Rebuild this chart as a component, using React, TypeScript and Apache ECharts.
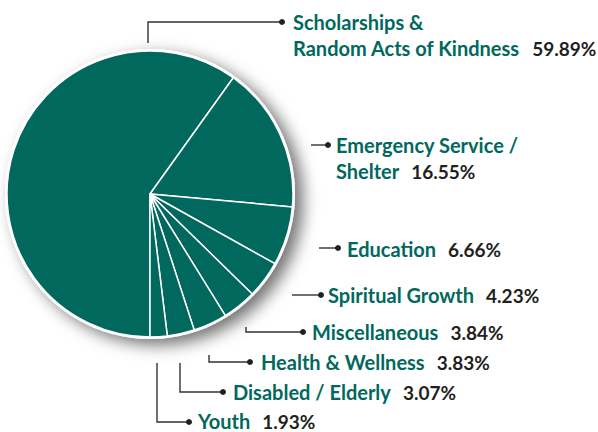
import React, { useEffect, useRef } from "react";
import * as echarts from "echarts";

const categories = [
  "Scholarships &\nRandom Acts of Kindness",
  "Emergency Service /\nShelter",
  "Education",
  "Spiritual Growth",
  "Miscellaneous",
  "Health & Wellness",
  "Disabled / Elderly",
  "Youth",
];
const values = [59.89, 16.55, 6.66, 4.23, 3.84, 3.83, 3.07, 1.93];

// label positions (text left / first-line centre) and leader-line points
const labelLayouts = [
  { x: 293, cy: 22, line: [[148, 43], [148, 22], [282, 22]] },
  { x: 336, cy: 145, line: [[311, 145], [311, 145], [328, 145]] },
  { x: 347, cy: 249, line: [[319, 248], [319, 248], [338, 248]] },
  { x: 328, cy: 295, line: [[292, 295], [292, 295], [321, 295]] },
  { x: 312, cy: 332, line: [[246, 327], [246, 332], [303, 332]] },
  { x: 261, cy: 362, line: [[209, 355], [209, 362], [250, 362]] },
  { x: 233, cy: 392, line: [[180, 363], [180, 392], [223, 392]] },
  { x: 198, cy: 421, line: [[157, 363], [157, 422], [189, 422]] },
];

const TEAL = "#00685d";
const DARK = "#231f20";
const FONT = "Lato, 'Open Sans', sans-serif";
const FS = 20;
const FS_VALUE = 19;
const LH_MULTI = 26;
const LH_SINGLE = 16;

export default function App() {
  const ref = useRef<HTMLDivElement>(null);
  useEffect(() => {
    document.body.style.margin = "0";
    if (!ref.current) return;
    const chart = echarts.init(ref.current, null, { renderer: "svg" });
    const total = values.reduce((a, b) => a + b, 0);
    const dots = labelLayouts.map((l) => {
      const p = l.line[l.line.length - 1];
      return {
        type: "circle",
        shape: { cx: p[0], cy: p[1], r: 3 },
        style: { fill: DARK },
        z: 100,
      };
    });
    const base = { fontFamily: FONT, fontSize: FS, fontWeight: 700 };
    const vbase = { fontFamily: FONT, fontSize: FS_VALUE, fontWeight: 700, color: DARK, padding: [0, 0, 0, 12] };
    chart.setOption({
      animation: false,
      backgroundColor: "#fff",
      graphic: dots,
      series: [
        {
          type: "pie",
          silent: true,
          center: [150, 194],
          radius: 145,
          startAngle: 270,
          label: { show: false },
          labelLine: { show: false },
          itemStyle: {
            color: "#fff",
            shadowBlur: 16,
            shadowOffsetX: 8,
            shadowOffsetY: 6,
            shadowColor: "rgba(0,0,0,0.55)",
          },
          data: [{ value: total, name: "" }],
        },
        {
          type: "pie",
          center: [150, 194],
          radius: 143,
          startAngle: 270,
          clockwise: true,
          avoidLabelOverlap: false,
          emphasis: { disabled: true },
          itemStyle: { color: TEAL, borderColor: "#fff", borderWidth: 1.5 },
          label: {
            show: true,
            position: "outside",
            ...base,
            color: TEAL,
            formatter: (p: any) => {
              const lines = String(p.name).split("\n");
              const multi = lines.length > 1;
              const n = multi ? "nm" : "n";
              const v = multi ? "vm" : "v";
              return lines
                .map((ln: string, i: number) =>
                  i === lines.length - 1
                    ? `{${n}|${ln}}{${v}|${Number(p.value).toFixed(2)}%}`
                    : `{${n}|${ln}}`
                )
                .join("\n");
            },
            rich: {
              n: { ...base, color: TEAL, lineHeight: LH_SINGLE },
              v: { ...vbase, lineHeight: LH_SINGLE },
              nm: { ...base, color: TEAL, lineHeight: LH_MULTI },
              vm: { ...vbase, lineHeight: LH_MULTI },
            },
          },
          labelLine: { show: true, lineStyle: { color: "#333", width: 1.4 } },
          labelLayout: (params: any) => {
            const l = labelLayouts[params.dataIndex];
            const multi = categories[params.dataIndex].indexOf("\n") >= 0;
            const lh = multi ? LH_MULTI : LH_SINGLE;
            return {
              x: l.x,
              y: l.cy - lh / 2,
              align: "left",
              verticalAlign: "top",
              labelLinePoints: l.line,
            };
          },
          data: categories.map((c, i) => ({ name: c, value: values[i] })),
        },
      ],
    });
    return () => chart.dispose();
  }, []);
  return <div ref={ref} style={{ width: 598, height: 432 }} />;
}
